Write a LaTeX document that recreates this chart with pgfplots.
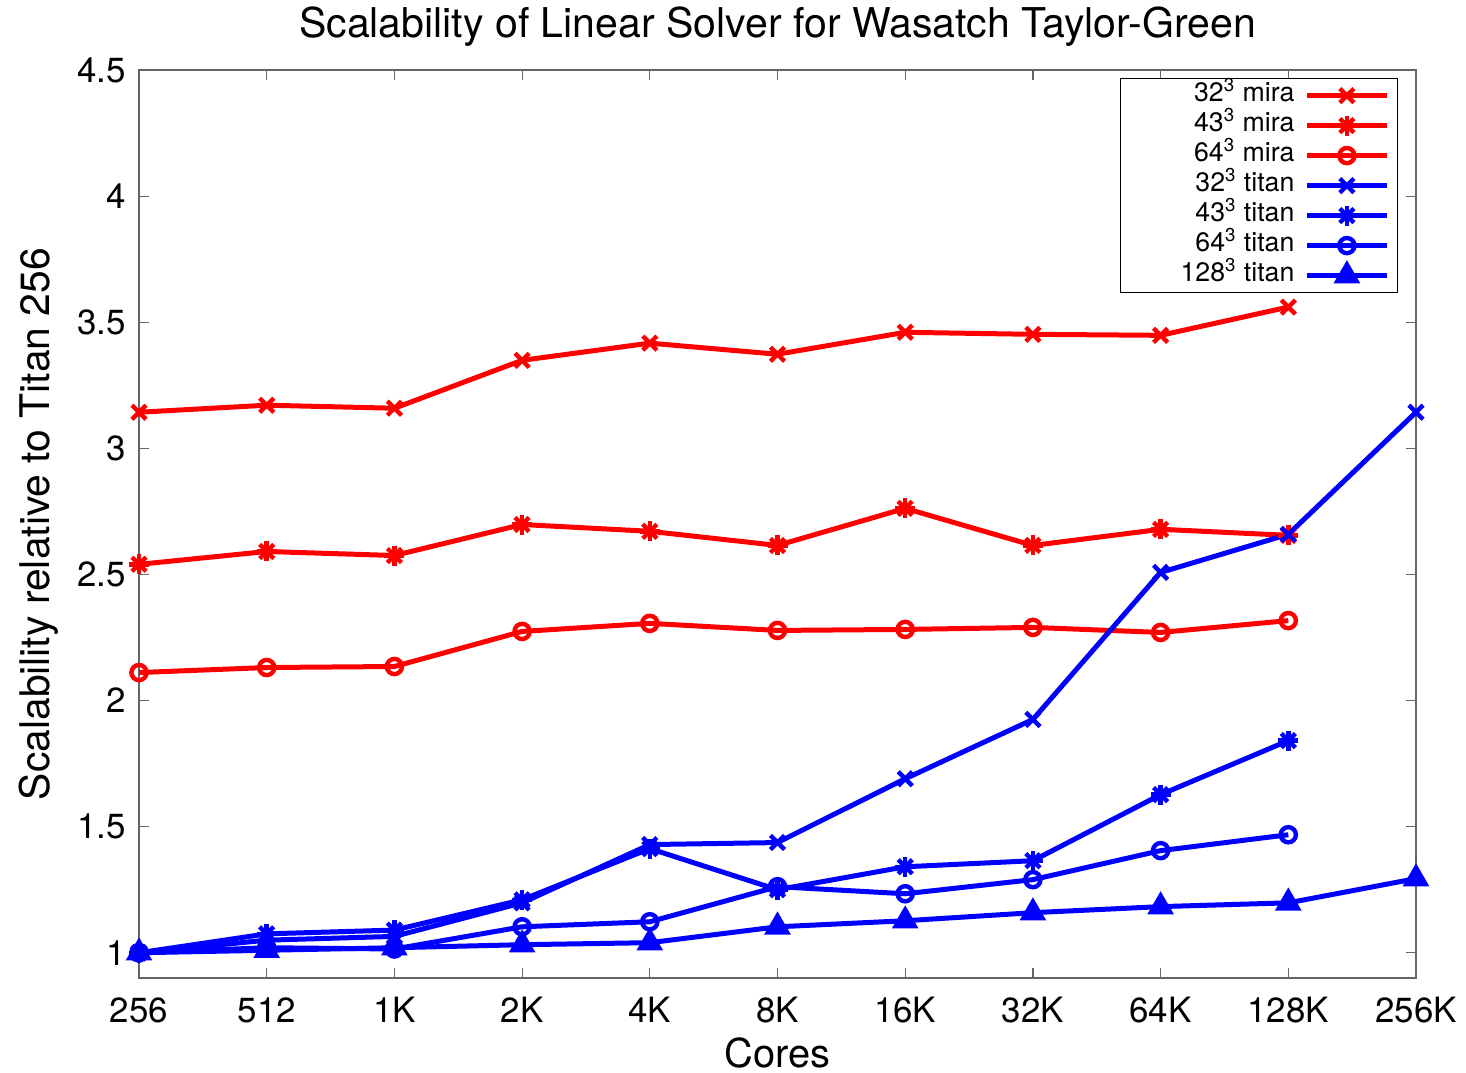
\documentclass[border=0pt]{standalone}
\usepackage{pgfplots}
\pgfplotsset{compat=1.18}
\usepackage{fontspec}
\setmainfont{TeX Gyre Heros}
\pgfdeclareplotmark{xplus}{\pgfuseplotmark{x}\pgfuseplotmark{+}}
\definecolor{gpred}{RGB}{255,0,0}
\definecolor{gpblue}{RGB}{0,0,255}
\begin{document}
\begin{tikzpicture}
\begin{axis}[
  name=ax,
  scale only axis,
  width=638.5bp, height=454bp,
  xmin=0, xmax=10, ymin=0.9, ymax=4.5,
  xtick={0,1,2,3,4,5,6,7,8,9,10},
  xticklabels={256,512,1K,2K,4K,8K,16K,32K,64K,128K,256K},
  ytick={1,1.5,2,2.5,3,3.5,4,4.5},
  yticklabels={1,1.5,2,2.5,3,3.5,4,4.5},
  tick align=inside,
  major tick length=5bp,
  tick style={black!60, line width=0.6bp},
  axis line style={black!60, line width=0.8bp},
  ticklabel style={font=\fontsize{17.5}{19}\selectfont},
  xticklabel style={anchor=base, yshift=-22bp},
  yticklabel style={anchor=east, xshift=-3bp},
  title={Scalability of Linear Solver for Wasatch Taylor-Green},
  title style={font=\fontsize{20.6}{23}\selectfont, at={(axis description cs:0.5,1)}, anchor=base, yshift=10.5bp},
  xlabel={Cores},
  xlabel style={font=\fontsize{20}{23}\selectfont, at={(axis description cs:0.5,0)}, anchor=base, yshift=-44.5bp},
  ylabel={Scalability relative to Titan 256},
  ylabel style={font=\fontsize{20.5}{23}\selectfont, at={(axis description cs:0,0.5)}, anchor=base, yshift=44.5bp},
  legend plot pos=right,
  legend cell align=right,
  legend image code/.code={\draw[mark repeat=2,mark phase=2] plot coordinates {(0bp,0bp) (20bp,0bp) (40bp,0bp)};},
  legend style={at={(1,1)}, anchor=north east, xshift=-9bp, yshift=-4bp,
    font=\fontsize{13.4}{15}\selectfont, draw=black, line width=0.6bp,
    inner xsep=4bp, inner ysep=1bp, row sep=0bp,
    nodes={inner ysep=0bp, inner xsep=5bp, text height=10.5bp, text depth=4.5bp}},
  every axis plot/.append style={line width=2.5bp, mark size=5bp, mark options={solid, line width=2.2bp}},
]
% 32^3 mira
\addplot[color=gpred, mark=x] coordinates {
 (0,3.143) (1,3.171) (2,3.159) (3,3.349) (4,3.417) (5,3.373) (6,3.460) (7,3.452) (8,3.448) (9,3.560)};
\addlegendentry{32\textsuperscript{3} mira}
% 43^3 mira
\addplot[color=gpred, mark=xplus] coordinates {
 (0,2.540) (1,2.591) (2,2.575) (3,2.698) (4,2.671) (5,2.615) (6,2.762) (7,2.615) (8,2.679) (9,2.655)};
\addlegendentry{43\textsuperscript{3} mira}
% 64^3 mira
\addplot[color=gpred, mark=o, mark size=3.8bp] coordinates {
 (0,2.111) (1,2.131) (2,2.135) (3,2.274) (4,2.306) (5,2.278) (6,2.282) (7,2.290) (8,2.270) (9,2.317)};
\addlegendentry{64\textsuperscript{3} mira}
% 32^3 titan
\addplot[color=gpblue, mark=x] coordinates {
 (0,1.0) (1,1.05) (2,1.065) (3,1.198) (4,1.429) (5,1.437) (6,1.690) (7,1.925) (8,2.508) (9,2.659) (10,3.143)};
\addlegendentry{32\textsuperscript{3} titan}
% 43^3 titan
\addplot[color=gpblue, mark=xplus] coordinates {
 (0,1.0) (1,1.075) (2,1.09) (3,1.21) (4,1.413) (5,1.25) (6,1.341) (7,1.365) (8,1.627) (9,1.841)};
\addlegendentry{43\textsuperscript{3} titan}
% 64^3 titan
\addplot[color=gpblue, mark=o, mark size=3.8bp] coordinates {
 (0,1.0) (1,1.02) (2,1.015) (3,1.103) (4,1.123) (5,1.262) (6,1.234) (7,1.290) (8,1.405) (9,1.468)};
\addlegendentry{64\textsuperscript{3} titan}
% 128^3 titan
\addplot[color=gpblue, mark=triangle*, mark size=5.5bp] coordinates {
 (0,1.0) (1,1.01) (2,1.02) (3,1.032) (4,1.04) (5,1.103) (6,1.127) (7,1.159) (8,1.183) (9,1.198) (10,1.294)};
\addlegendentry{\hspace*{21bp}128\textsuperscript{3} titan}
\end{axis}
\pgfresetboundingbox
\path ([shift={(-69.5bp,-47.5bp)}]ax.south west) rectangle ([shift={(25bp,35bp)}]ax.north east);
\end{tikzpicture}
\end{document}
